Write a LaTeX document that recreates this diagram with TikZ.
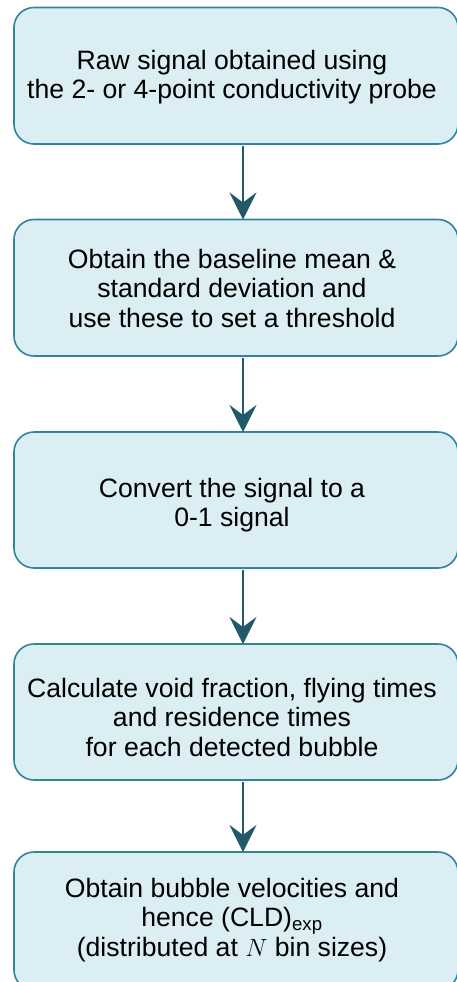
\documentclass[tikz,border=0pt]{standalone}
\usepackage{fontspec}
\setmainfont{Liberation Sans}
\usetikzlibrary{arrows.meta}
\definecolor{boxfill}{HTML}{DAEEF3}
\definecolor{boxline}{HTML}{31849B}
\definecolor{arrowc}{HTML}{215968}
\tikzset{
  stepbox/.style={draw=boxline, fill=boxfill, line width=1.6pt, rounded corners=20pt},
  steptext/.style={align=center, font=\fontsize{26.6}{29.5}\selectfont, inner sep=0pt},
  flow/.style={draw=arrowc, line width=2.6pt, -{Stealth[length=27pt,width=27pt,inset=10pt]}}
}
\begin{document}
\begin{tikzpicture}[x=1pt,y=-1pt]
\useasboundingbox (0,0) rectangle (456,982);
\draw[stepbox] (14,7.5) rectangle (458,144);
\draw[stepbox] (14,219.5) rectangle (458,356);
\draw[stepbox] (14,432) rectangle (458,568);
\draw[stepbox] (14,644) rectangle (458,780);
\draw[stepbox] (14,852) rectangle (458,990);
\node[steptext] (t1) at (232,77) {Raw signal obtained using\\the 2- or 4-point conductivity probe};
\node[steptext] (t2) at (232,288) {Obtain the baseline mean \&\\standard deviation and\\use these to set a threshold};
\node[steptext] (t3) at (232,505) {Convert the signal to a\\0-1 signal};
\node[steptext] (t4) at (232,717) {Calculate void fraction, flying times\\and residence times\\for each detected bubble};
\node[steptext] (t5) at (232,920) {Obtain bubble velocities and\\hence (CLD)\textsubscript{exp}\\(distributed at $N$ bin sizes)};
\coordinate (a1s) at (243,146); \coordinate (a1e) at (243,219.5);
\coordinate (a2s) at (243,358); \coordinate (a2e) at (243,432);
\coordinate (a3s) at (243,570); \coordinate (a3e) at (243,644);
\coordinate (a4s) at (243,782); \coordinate (a4e) at (243,852);
\draw[flow] (a1s) -- (a1e);
\draw[flow] (a2s) -- (a2e);
\draw[flow] (a3s) -- (a3e);
\draw[flow] (a4s) -- (a4e);
\end{tikzpicture}
\end{document}
